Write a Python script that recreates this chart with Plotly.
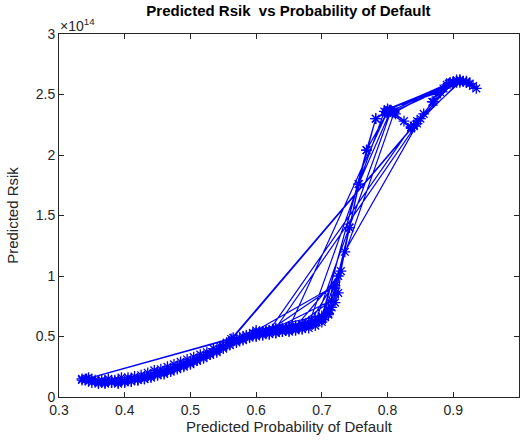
import plotly.graph_objects as go

# Predicted probability of default (x) and predicted risk in units of 1e14 (y), in plotting order
pd_x = [
    0.335, 0.34, 0.345, 0.35, 0.355, 0.36, 0.365, 0.37, 0.375, 0.38, 0.385, 0.39, 0.395, 0.40,
    0.405, 0.41, 0.415, 0.42, 0.425, 0.43, 0.435, 0.44, 0.445, 0.45, 0.455, 0.46, 0.465, 0.47,
    0.475, 0.48, 0.485, 0.49, 0.495, 0.50, 0.505, 0.51, 0.515, 0.52, 0.525, 0.53, 0.535, 0.54,
    0.545, 0.55, 0.555, 0.56, 0.565, 0.57, 0.575, 0.58, 0.585, 0.59, 0.595, 0.60, 0.605, 0.61,
    0.615, 0.62, 0.625, 0.63, 0.635, 0.64, 0.645, 0.65, 0.655, 0.66, 0.665, 0.67, 0.675, 0.68,
    0.685, 0.69, 0.695, 0.70, 0.705, 0.71, 0.715, 0.72, 0.725,
    0.729, 0.742, 0.756, 0.768, 0.782, 0.798, 0.803, 0.808, 0.812, 0.825, 0.836, 0.84, 0.845,
    0.855, 0.868, 0.875, 0.885, 0.893, 0.90, 0.905, 0.91, 0.915, 0.92, 0.925, 0.935, 0.92,
    0.90, 0.89, 0.80,
    0.836, 0.562, 0.335,
    0.345, 0.36, 0.37, 0.38, 0.39, 0.40, 0.41, 0.42, 0.43, 0.44, 0.45, 0.46, 0.47, 0.48,
    0.49, 0.50, 0.51, 0.52, 0.53, 0.54, 0.55, 0.56, 0.57, 0.58, 0.59, 0.60,
    0.61, 0.62, 0.63, 0.64, 0.65, 0.66, 0.67, 0.68, 0.69, 0.70, 0.71, 0.72,
    0.742, 0.756, 0.805, 0.836, 0.87, 0.90, 0.84,
    0.565, 0.342,
    0.35, 0.36, 0.37, 0.38, 0.39, 0.40, 0.41, 0.42, 0.43, 0.44, 0.45, 0.46, 0.47, 0.48,
    0.49, 0.50, 0.51, 0.52, 0.53, 0.54, 0.55, 0.56, 0.57, 0.58, 0.59, 0.60,
    0.61, 0.62, 0.63, 0.64, 0.65, 0.66, 0.67, 0.68, 0.69, 0.70, 0.71,
    0.60, 0.72, 0.62, 0.836, 0.80, 0.65, 0.69, 0.805, 0.895, 0.81, 0.70, 0.768, 0.80,
    0.782, 0.70, 0.712, 0.72, 0.735, 0.85, 0.91, 0.93, 0.91, 0.88, 0.80, 0.90, 0.81,
    0.91, 0.845, 0.63, 0.715, 0.66, 0.725, 0.68, 0.795, 0.905, 0.92,
]
risk_y = [
    0.15, 0.14, 0.16, 0.12, 0.14, 0.11, 0.14, 0.11, 0.15, 0.12, 0.14, 0.11, 0.16, 0.13,
    0.16, 0.13, 0.17, 0.14, 0.18, 0.15, 0.20, 0.17, 0.22, 0.18, 0.23, 0.20, 0.25, 0.22,
    0.27, 0.24, 0.29, 0.26, 0.31, 0.28, 0.33, 0.30, 0.35, 0.33, 0.37, 0.35, 0.40, 0.38,
    0.42, 0.41, 0.45, 0.43, 0.47, 0.45, 0.49, 0.47, 0.51, 0.49, 0.53, 0.50, 0.54, 0.51,
    0.55, 0.52, 0.56, 0.53, 0.56, 0.54, 0.57, 0.54, 0.58, 0.55, 0.58, 0.56, 0.60, 0.57,
    0.61, 0.59, 0.63, 0.62, 0.66, 0.68, 0.74, 0.78, 0.86,
    1.04, 1.40, 1.76, 2.04, 2.30, 2.35, 2.37, 2.36, 2.34, 2.28, 2.23, 2.24, 2.28,
    2.34, 2.44, 2.50, 2.55, 2.59, 2.60, 2.61, 2.62, 2.61, 2.60, 2.59, 2.55, 2.61,
    2.59, 2.58, 2.37,
    2.22, 0.48, 0.14,
    0.13, 0.12, 0.13, 0.12, 0.14, 0.13, 0.15, 0.15, 0.17, 0.18, 0.20, 0.21, 0.23, 0.25,
    0.27, 0.29, 0.31, 0.34, 0.36, 0.39, 0.42, 0.45, 0.47, 0.50, 0.51, 0.53,
    0.54, 0.55, 0.56, 0.57, 0.58, 0.59, 0.60, 0.62, 0.64, 0.67, 0.72, 0.90,
    1.40, 1.76, 2.37, 2.23, 2.44, 2.60, 2.24,
    0.49, 0.15,
    0.14, 0.13, 0.12, 0.13, 0.12, 0.12, 0.13, 0.14, 0.15, 0.16, 0.18, 0.19, 0.21, 0.23,
    0.25, 0.27, 0.30, 0.32, 0.35, 0.37, 0.40, 0.43, 0.46, 0.48, 0.50, 0.51,
    0.52, 0.52, 0.53, 0.54, 0.55, 0.56, 0.57, 0.59, 0.61, 0.64, 0.69,
    0.55, 0.92, 0.55, 2.23, 2.36, 0.57, 0.62, 2.36, 2.60, 2.35, 0.64, 2.04, 2.36,
    2.30, 0.66, 0.72, 0.85, 1.20, 2.30, 2.60, 2.57, 2.62, 2.52, 2.38, 2.60, 2.36,
    2.61, 2.26, 0.57, 0.80, 0.58, 1.00, 0.60, 2.36, 2.62, 2.60,
]

x_ticks = [0.3, 0.4, 0.5, 0.6, 0.7, 0.8, 0.9, 1.0]
x_tick_text = ["0.3", "0.4", "0.5", "0.6", "0.7", "0.8", "0.9", "1"]
y_ticks = [0, 0.5, 1, 1.5, 2, 2.5, 3]
y_tick_text = ["0", "0.5", "1", "1.5", "2", "2.5", "3"]

AX = "#262626"
FONT = "Liberation Sans, Arial, sans-serif"

fig = go.Figure()
fig.add_trace(go.Scatter(
    x=pd_x, y=risk_y, mode="lines+markers",
    line=dict(color="#0000FF", width=1.2),
    marker=dict(symbol="asterisk-open", size=9, color="#0000FF",
                line=dict(color="#0000FF", width=1.3)),
    showlegend=False, hoverinfo="skip", cliponaxis=True,
))

axis_common = dict(
    showgrid=False, zeroline=False, showline=True, linecolor=AX, linewidth=1,
    mirror="ticks", ticks="inside", ticklen=5, tickcolor=AX, tickwidth=1,
    tickfont=dict(family=FONT, size=14, color=AX), automargin=False,
)
fig.update_xaxes(range=[0.3, 1.0], tickvals=x_ticks, ticktext=x_tick_text,
                 title=dict(text="Predicted Probability of Default",
                            font=dict(family=FONT, size=15, color=AX), standoff=3),
                 **axis_common)
fig.update_yaxes(range=[0, 3], tickvals=y_ticks, ticktext=y_tick_text,
                 title=dict(text="Predicted Rsik",
                            font=dict(family=FONT, size=15, color=AX), standoff=13),
                 **axis_common)

fig.update_layout(
    width=520, height=442,
    margin=dict(l=59, r=1, t=34, b=45),
    paper_bgcolor="white", plot_bgcolor="white",
    title=dict(text="<b>Predicted Rsik  vs Probability of Default</b>",
               x=0.5547, xanchor="center", y=0.975, yanchor="middle",
               font=dict(family=FONT, size=15, color="black")),
    annotations=[dict(text="×10<sup>14</sup>", xref="paper", yref="paper",
                      x=0.0, y=1.0, xanchor="left", yanchor="bottom", showarrow=False,
                      font=dict(family=FONT, size=14, color=AX), xshift=-1, yshift=-2)],
)

fig.write_html("out.html", config={"displayModeBar": False},
               post_script="document.body.style.margin='0';document.body.style.overflow='hidden';")
